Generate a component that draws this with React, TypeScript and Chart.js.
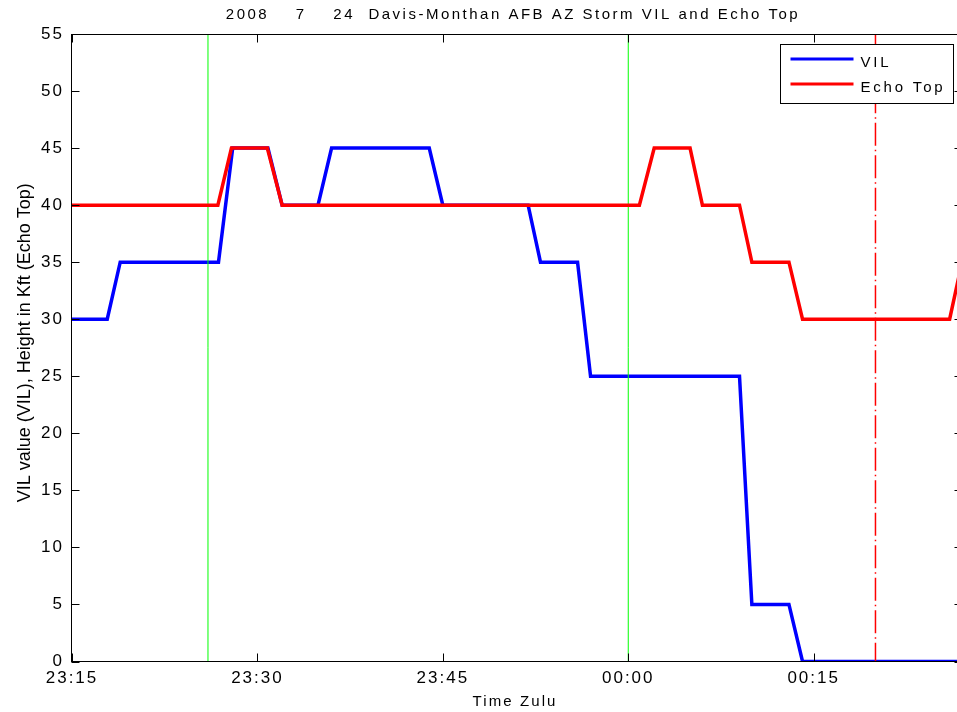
import React, { useEffect, useRef } from "react";
import { Chart, registerables } from "chart.js";

Chart.register(...registerables);

// ---- data (minutes after 23:15 Zulu) ----
const vilTimes = [0, 2.85, 3.9, 11.85, 13.0, 15.85, 17.0, 19.9, 21.0, 28.9, 30.0, 36.9, 37.9, 40.9, 41.95, 54.0, 55.0, 58.0, 59.1, 72];
const vilValues = [30, 30, 35, 35, 45, 45, 40, 40, 45, 45, 40, 40, 35, 35, 25, 25, 5, 5, 0, 0];
const echoTimes = [0, 11.8, 12.9, 15.8, 17.0, 45.9, 47.1, 50.0, 51.0, 54.0, 55.0, 58.0, 59.1, 71.0, 72];
const echoValues = [40, 40, 45, 45, 40, 40, 45, 45, 40, 40, 35, 35, 30, 30, 35];
const greenMarkerTimes = [11, 45];
const redMarkerTimes = [65];
const xTickValues = [0, 15, 30, 45, 60];
const xTickLabels = ["23:15", "23:30", "23:45", "00:00", "00:15"];
const yTickValues = [0, 5, 10, 15, 20, 25, 30, 35, 40, 45, 50, 55];
const xMin = 0;
const xMax = 72;
const yMin = 0;
const yMax = 55;

const TITLE = "2008    7    24  Davis-Monthan AFB AZ Storm VIL and Echo Top";
const X_TITLE = "Time Zulu";
const Y_TITLE = "VIL value (VIL), Height in Kft (Echo Top)";

const FONT = "'Liberation Sans', Arial, sans-serif";

const framePlugin = {
  id: "matlabFrame",
  beforeDraw(chart: any) {
    chart.ctx.letterSpacing = "2px";
  },
  afterDatasetsDraw(chart: any) {
    const { ctx, chartArea } = chart;
    const { left, right, top, bottom } = chartArea;
    const xs = chart.scales.x;
    const ys = chart.scales.y;
    const L = Math.round(left) - 0.5;
    const R = Math.round(right) + 0.5;
    const T = Math.round(top) + 0.5;
    const B = Math.round(bottom) - 0.5;
    const tl = 8;
    ctx.save();
    ctx.strokeStyle = "#000";
    ctx.lineWidth = 1;
    ctx.beginPath();
    xTickValues.forEach((v) => {
      const px = Math.round(xs.getPixelForValue(v)) + 0.5;
      ctx.moveTo(px, B);
      ctx.lineTo(px, B - tl);
      ctx.moveTo(px, T);
      ctx.lineTo(px, T + tl);
    });
    yTickValues.forEach((v) => {
      const py = Math.round(ys.getPixelForValue(v)) + 0.5;
      ctx.moveTo(L, py);
      ctx.lineTo(L + tl, py);
      ctx.moveTo(R, py);
      ctx.lineTo(R - tl, py);
    });
    ctx.stroke();
    ctx.strokeRect(L, T, R - L, B - T);
    ctx.restore();
  },
  afterDraw(chart: any) {
    const { ctx, chartArea } = chart;
    const { left, right, top, bottom } = chartArea;
    const cx = (left + right) / 2;
    ctx.save();
    ctx.fillStyle = "#000";
    // title
    ctx.font = `15px ${FONT}`;
    ctx.letterSpacing = "2.5px";
    ctx.textAlign = "center";
    ctx.textBaseline = "alphabetic";
    ctx.fillText(TITLE, cx - 4, 18.5);
    // x title
    ctx.font = `15px ${FONT}`;
    ctx.letterSpacing = "2.1px";
    ctx.fillText(X_TITLE, cx - 2, 706);
    // y title
    ctx.font = `18px ${FONT}`;
    ctx.letterSpacing = "0px";
    ctx.save();
    ctx.translate(30, (top + bottom) / 2 - 5);
    ctx.rotate(-Math.PI / 2);
    ctx.fillText(Y_TITLE, 0, 0);
    ctx.restore();

    // legend box
    const entries = chart.data.datasets
      .map((d: any, i: number) => ({ d, i }))
      .filter((e: any) => e.d.inLegend);
    const boxR = Math.round(right) - 8.5;
    const boxT = Math.round(top) + 10.5;
    const boxW = 173;
    const boxH = 59;
    const boxL = boxR - boxW;
    ctx.fillStyle = "#fff";
    ctx.fillRect(boxL, boxT, boxW, boxH);
    ctx.strokeStyle = "#000";
    ctx.lineWidth = 1;
    ctx.strokeRect(boxL, boxT, boxW, boxH);
    ctx.font = `15px ${FONT}`;
    ctx.letterSpacing = "2.8px";
    ctx.textAlign = "left";
    entries.forEach((e: any, k: number) => {
      const ly = boxT + 14.5 + k * 25;
      ctx.strokeStyle = e.d.borderColor;
      ctx.lineWidth = 3;
      ctx.beginPath();
      ctx.moveTo(boxL + 10, ly);
      ctx.lineTo(boxL + 73, ly);
      ctx.stroke();
      ctx.fillStyle = "#000";
      ctx.fillText(e.d.label, boxL + 80, ly + 8);
    });
    ctx.restore();
  },
};

export default function App() {
  const ref = useRef<HTMLCanvasElement>(null);

  useEffect(() => {
    const canvas = ref.current;
    if (!canvas) return;

    const vilData = vilTimes.map((t, i) => ({ x: t, y: vilValues[i] }));
    const echoData = echoTimes.map((t, i) => ({ x: t, y: echoValues[i] }));
    const greenSets = greenMarkerTimes.map((t) => ({
      label: "",
      data: [
        { x: t, y: yMin },
        { x: t, y: yMax },
      ],
      borderColor: "#00ff00",
      borderWidth: 1,
      pointRadius: 0,
      order: 2,
      inLegend: false,
    }));
    const redSets = redMarkerTimes.map((t) => ({
      label: "",
      data: [
        { x: t, y: yMin },
        { x: t, y: yMax },
      ],
      borderColor: "#ff0000",
      borderWidth: 1.5,
      borderDash: [23, 4, 1.5, 4],
      borderDashOffset: 4.25,
      pointRadius: 0,
      order: 2,
      inLegend: false,
    }));

    const chart = new Chart(canvas, {
      type: "line",
      data: {
        datasets: [
          {
            label: "VIL",
            data: vilData,
            borderColor: "#0000ff",
            borderWidth: 3.5,
            pointRadius: 0,
            tension: 0,
            order: 3,
            inLegend: true,
          } as any,
          {
            label: "Echo Top",
            data: echoData,
            borderColor: "#ff0000",
            borderWidth: 3.5,
            pointRadius: 0,
            tension: 0,
            order: 1,
            inLegend: true,
          } as any,
          ...(greenSets as any[]),
          ...(redSets as any[]),
        ],
      },
      options: {
        animation: false,
        responsive: false,
        maintainAspectRatio: false,
        devicePixelRatio: 1,
        layout: { padding: { top: 34, right: 8, bottom: 0, left: 0 } },
        plugins: {
          legend: { display: false },
          title: { display: false },
          tooltip: { enabled: false },
        },
        scales: {
          x: {
            type: "linear",
            min: xMin,
            max: xMax,
            grid: { display: false, drawTicks: false },
            border: { display: false },
            afterBuildTicks: (s: any) => {
              s.ticks = xTickValues.map((v) => ({ value: v }));
            },
            afterFit: (s: any) => {
              s.height = 50.5;
            },
            ticks: {
              autoSkip: false,
              maxRotation: 0,
              minRotation: 0,
              padding: 7,
              color: "#000",
              font: { family: FONT, size: 17 },
              callback: (v: any) => {
                const i = xTickValues.indexOf(Number(v));
                return i >= 0 ? xTickLabels[i] : "";
              },
            },
          },
          y: {
            type: "linear",
            min: yMin,
            max: yMax,
            grid: { display: false, drawTicks: false },
            border: { display: false },
            afterBuildTicks: (s: any) => {
              s.ticks = yTickValues.map((v) => ({ value: v }));
            },
            afterFit: (s: any) => {
              s.width = 72;
            },
            ticks: {
              padding: 8,
              color: "#000",
              font: { family: FONT, size: 17 },
            },
          },
        },
      },
      plugins: [framePlugin],
    } as any);

    return () => chart.destroy();
  }, []);

  return (
    <div
      style={{
        position: "fixed",
        left: 0,
        top: 0,
        width: 957,
        height: 712,
        overflow: "hidden",
        background: "#fff",
      }}
    >
      <canvas ref={ref} width={970} height={712} style={{ display: "block" }} />
    </div>
  );
}
